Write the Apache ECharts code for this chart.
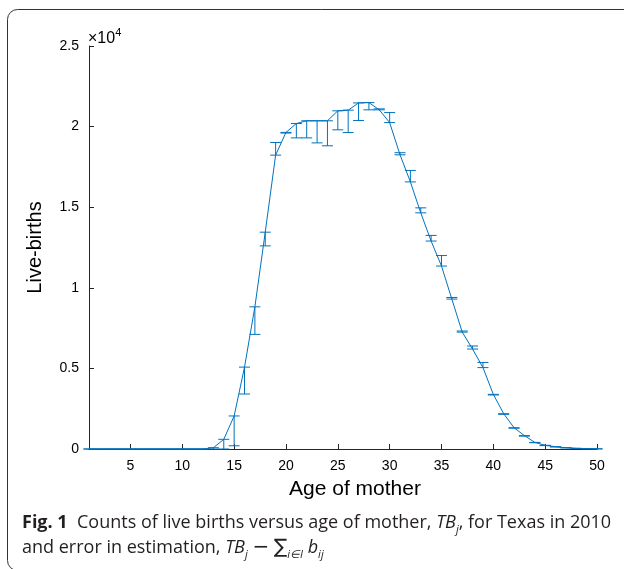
<!DOCTYPE html>
<html>
<head>
<meta charset="utf-8">
<script src="https://cdn.jsdelivr.net/npm/echarts@6/dist/echarts.min.js"></script>
<style>
html,body{margin:0;padding:0;background:#fff;}
#c{width:624px;height:569px;}
</style>
</head>
<body>
<div id="c"></div>
<script>
// Age of mother (years)
const ages = [1,2,3,4,5,6,7,8,9,10,11,12,13,14,15,16,17,18,19,20,21,22,23,24,25,26,27,28,29,30,31,32,33,34,35,36,37,38,39,40,41,42,43,44,45,46,47,48,49,50];
// Counts of live births TB_j
const births = [0,0,0,0,0,0,0,0,0,0,0,0,80,600,2050,5080,8820,13450,18230,19640,20190,20360,20360,20360,20980,21020,21470,21490,21040,20250,18250,16570,14650,12900,11350,9300,7250,6200,5050,3390,2190,1320,830,410,230,140,80,40,20,10];
// Other end of the error bar: TB_j - error
const errEnd = [0,0,0,0,0,0,0,0,0,0,0,0,0,0,200,3410,7110,12600,19015,19600,19300,19300,18990,18810,19800,19630,20380,21040,21100,20870,18380,17280,14960,13250,12000,9400,7320,6390,5370,3350,2150,1290,800,390,210,130,70,35,15,5];
// Axis ticks
const xTicks = [5,10,15,20,25,30,35,40,45,50];
const yTickLabels = ['0','0.5','1','1.5','2','2.5'];

const blue = '#0072BD';
const axisColor = '#262626';
const chart = echarts.init(document.getElementById('c'), null, {renderer:'canvas'});

const lineData = ages.map((a,i)=>[a, births[i]]);
const errData = ages.map((a,i)=>[a, births[i], errEnd[i]]);

chart.setOption({
  animation:false,
  backgroundColor:'#fff',
  grid:{left:89, right:27, top:46, bottom:120, containLabel:false},
  xAxis:{
    type:'value', min:1, max:50,
    name:'Age of mother', nameLocation:'middle', nameGap:30,
    nameTextStyle:{fontFamily:'Liberation Sans', fontSize:21, color:'#000', padding:[0,0,0,24]},
    axisLine:{show:true, onZero:false, lineStyle:{color:axisColor, width:1}},
    axisTick:{show:true, inside:true, length:5, customValues:xTicks, lineStyle:{color:axisColor}},
    axisLabel:{customValues:xTicks, fontFamily:'Liberation Sans', fontSize:14, color:'#000', margin:10},
    splitLine:{show:false}
  },
  yAxis:{
    type:'value', min:0, max:25000, interval:5000,
    name:'Live-births', nameLocation:'middle', nameGap:44,
    nameTextStyle:{fontFamily:'Liberation Sans', fontSize:20, color:'#000'},
    axisLine:{show:true, lineStyle:{color:axisColor, width:1}},
    axisTick:{show:true, inside:true, length:5, lineStyle:{color:axisColor}},
    axisLabel:{fontFamily:'Liberation Sans', fontSize:14, color:'#000', margin:10,
      formatter:(v)=>yTickLabels[Math.round(v/5000)]},
    splitLine:{show:false}
  },
  series:[
    {
      type:'custom', data:errData, z:3, clip:false,
      encode:{x:0, y:[1,2]},
      renderItem:function(params, api){
        const x = api.value(0);
        const p1 = api.coord([x, api.value(1)]);
        const p2 = api.coord([x, api.value(2)]);
        const hw = 5.5;
        const st = {stroke:blue, lineWidth:1, fill:null};
        return {type:'group', children:[
          {type:'line', shape:{x1:p1[0],y1:p1[1],x2:p2[0],y2:p2[1]}, style:st},
          {type:'line', shape:{x1:p1[0]-hw,y1:p1[1],x2:p1[0]+hw,y2:p1[1]}, style:st},
          {type:'line', shape:{x1:p2[0]-hw,y1:p2[1],x2:p2[0]+hw,y2:p2[1]}, style:st}
        ]};
      }
    },
    {
      type:'line', data:lineData, showSymbol:false, symbol:'none', z:4,
      lineStyle:{color:blue, width:1}, itemStyle:{color:blue}
    }
  ],
  graphic:[
    {type:'rect', shape:{x:7.5, y:9.5, width:700, height:561, r:10},
     style:{fill:null, stroke:'#333', lineWidth:1}, silent:true, z:0},
    {type:'text', left:88, top:27,
     style:{text:'{n|×10}{s|4}',
       rich:{
         n:{fontSize:16, fontFamily:'Liberation Sans', lineHeight:20, verticalAlign:'bottom', fill:'#000'},
         s:{fontSize:11, fontFamily:'Liberation Sans', verticalAlign:'top', lineHeight:12, fill:'#000'}}}},
    {type:'text', left:22, top:510,
     style:{
       text:'{b|Fig. 1}  Counts of live births versus age of mother, {i|TB}{s|j}, for Texas in 2010\nand error in estimation, {i|TB}{s|j} {m|−} {m|∑}{s|i∈I} {i|b}{s|ij}',
       fill:'#231f20', font:'18px "Open Sans"', lineHeight:25,
       rich:{
         b:{fontWeight:'bold', fontSize:18, fontFamily:'Open Sans', lineHeight:25, fill:'#231f20'},
         i:{fontStyle:'italic', fontSize:18, fontFamily:'Open Sans', lineHeight:25, fill:'#231f20'},
         s:{fontStyle:'italic', fontSize:11, fontFamily:'Open Sans', lineHeight:15, verticalAlign:'bottom', fill:'#231f20'},
         m:{fontSize:20, fontFamily:'DejaVu Sans', lineHeight:25, fill:'#231f20'}
       }
     }}
  ]
});
</script>
</body>
</html>
